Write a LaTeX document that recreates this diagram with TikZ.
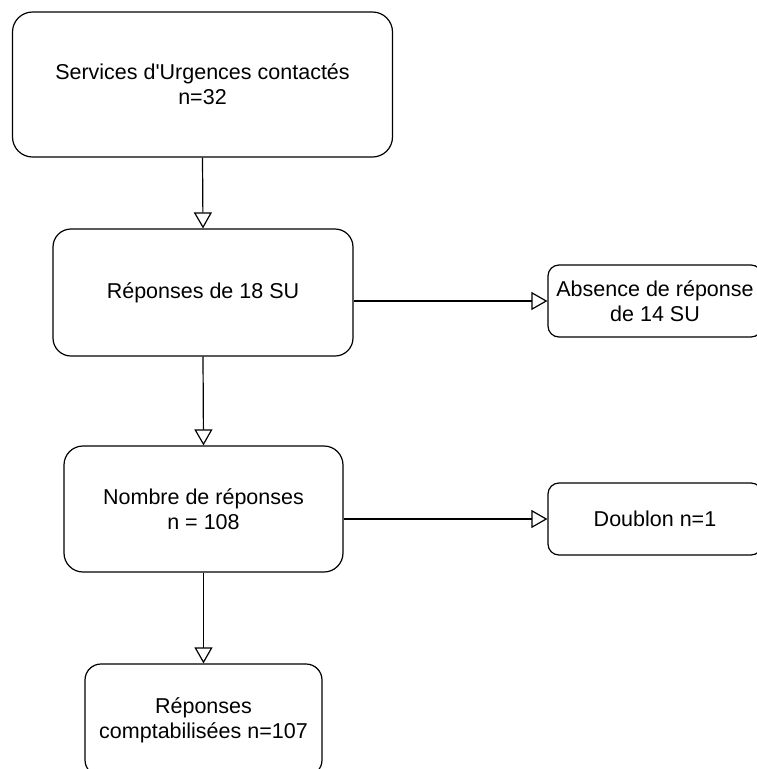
\documentclass[tikz,border=0pt]{standalone}
\usepackage{fontspec}
\setmainfont{Liberation Sans}
\usetikzlibrary{arrows.meta}

\tikzset{
  box/.style={draw, line width=1.2pt, align=center, inner sep=0pt,
    font=\fontsize{21.5}{25}\selectfont},
  flow/.style={line width=1.2pt,
    -{Triangle[open, length=16pt, width=18pt, line width=1.2pt]}}
}

\begin{document}
\begin{tikzpicture}[x=1pt, y=-1pt]
    \path [use as bounding box, clip] (0, 0) rectangle (757, 769);
    % contacted services
    \node [box, rounded corners=20pt, minimum width=380pt, minimum height=145pt]
      (svc) at (202.5, 84.5) {Services d\textquotesingle Urgences contactés\\n=32};
    % answers
    \node [box, rounded corners=18pt, minimum width=300pt, minimum height=127pt]
      (rep) at (203, 292.5) {Réponses de 18 SU};
    \node [box, rounded corners=11pt, minimum width=214pt, minimum height=72pt]
      (abs) at (655, 301) {Absence de réponse\\de 14 SU};
    % count
    \node [box, rounded corners=19pt, minimum width=279pt, minimum height=126pt]
      (nbr) at (203.5, 509) {Nombre de réponses\\n = 108};
    \node [box, rounded corners=11pt, minimum width=214pt, minimum height=72pt]
      (dbl) at (655, 519) {Doublon n=1};
    % kept
    \node [box, rounded corners=16pt, minimum width=237pt, minimum height=112pt]
      (cpt) at (203.5, 720) {Réponses\\comptabilisées n=107};
    % arrows
    \draw [flow] (svc.south) -- (rep.north);
    \draw [flow] (rep.east |- abs.west) -- (abs.west);
    \draw [flow] (rep.south) -- (nbr.north);
    \draw [flow] (nbr.east |- dbl.west) -- (dbl.west);
    \draw [flow] (nbr.south) -- (cpt.north);
  \end{tikzpicture}
\end{document}
